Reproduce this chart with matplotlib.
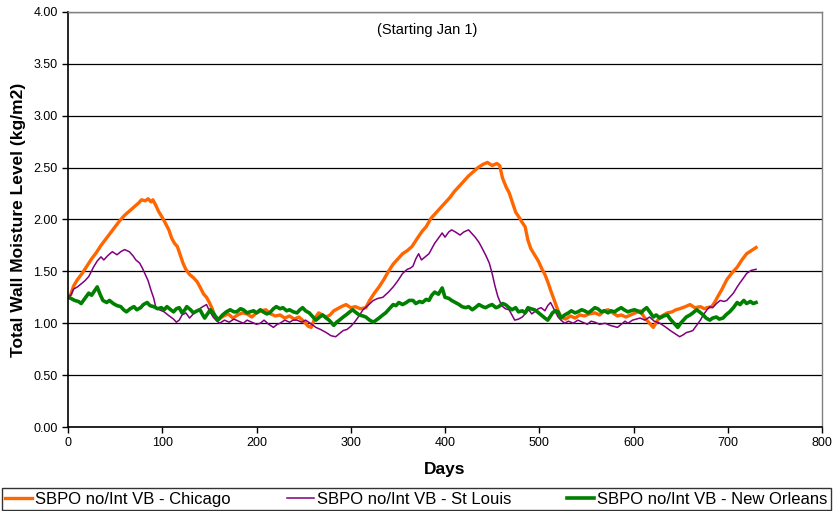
import matplotlib
matplotlib.use("Agg")
import matplotlib.pyplot as plt
from matplotlib.ticker import MultipleLocator, FormatStrFormatter

plt.rcParams['font.family'] = ['Liberation Sans', 'DejaVu Sans']

# ---- data ----
chicago_days = [0, 3, 6, 10, 15, 20, 25, 30, 35, 40, 45, 50, 55, 60, 65, 70, 75, 78, 82, 85, 88, 90, 93, 96,
                100, 103, 107, 110, 113, 116, 119, 122, 125, 129, 133, 137, 140, 144, 147, 150, 153, 156,
                160, 165, 170, 175, 180, 185, 190, 195, 200, 205, 210, 215, 220, 225, 230, 235, 240, 245,
                250, 255, 258, 262, 266, 270, 274, 278, 282, 286, 290, 295, 300, 305, 310, 316, 320, 325,
                330, 335, 340, 345, 350, 355, 360, 365, 370, 376, 380, 385, 390, 395, 400, 405, 410, 415,
                420, 425, 430, 435, 440, 445, 450, 455, 458, 461, 465, 468, 472, 475, 478, 482, 485, 488,
                491, 495, 499, 503, 506, 509, 512, 516, 520, 523, 528, 533, 538, 543, 548, 553, 559, 564,
                569, 573, 578, 583, 587, 592, 597, 602, 607, 612, 617, 621, 625, 628, 632, 636, 641, 645,
                649, 655, 660, 665, 671, 675, 678, 683, 686, 689, 694, 699, 704, 710, 715, 720, 725, 730]
chicago_vals = [1.25, 1.28, 1.36, 1.42, 1.48, 1.55, 1.62, 1.68, 1.75, 1.81, 1.87, 1.93, 1.99, 2.04, 2.08, 2.12,
                2.16, 2.19, 2.18, 2.20, 2.17, 2.19, 2.14, 2.08, 2.02, 1.97, 1.90, 1.82, 1.77, 1.74, 1.66, 1.58,
                1.52, 1.47, 1.44, 1.40, 1.35, 1.28, 1.25, 1.20, 1.14, 1.06, 1.04, 1.07, 1.09, 1.05, 1.08, 1.10,
                1.09, 1.06, 1.10, 1.12, 1.13, 1.09, 1.07, 1.08, 1.05, 1.07, 1.04, 1.06, 1.02, 0.97, 0.96, 1.05,
                1.10, 1.08, 1.06, 1.08, 1.12, 1.14, 1.16, 1.18, 1.15, 1.16, 1.14, 1.15, 1.22, 1.29, 1.35, 1.42,
                1.50, 1.57, 1.62, 1.67, 1.70, 1.74, 1.81, 1.89, 1.93, 2.01, 2.06, 2.11, 2.16, 2.21, 2.27, 2.32,
                2.37, 2.42, 2.46, 2.50, 2.53, 2.55, 2.52, 2.54, 2.52, 2.40, 2.31, 2.26, 2.15, 2.07, 2.03, 1.97,
                1.93, 1.80, 1.72, 1.66, 1.60, 1.52, 1.47, 1.40, 1.32, 1.22, 1.12, 1.06, 1.04, 1.07, 1.05, 1.08,
                1.07, 1.09, 1.10, 1.08, 1.12, 1.13, 1.10, 1.07, 1.08, 1.06, 1.08, 1.10, 1.12, 1.05, 1.00, 0.96,
                1.02, 1.06, 1.08, 1.10, 1.11, 1.13, 1.14, 1.16, 1.18, 1.15, 1.16, 1.14, 1.15, 1.16, 1.20, 1.25,
                1.33, 1.42, 1.48, 1.54, 1.61, 1.67, 1.70, 1.73]

stlouis_days = [0, 3, 6, 10, 14, 18, 22, 27, 31, 35, 38, 42, 47, 52, 56, 60, 65, 69, 72, 76, 79, 82, 85, 88,
                91, 93, 97, 102, 106, 109, 112, 115, 118, 121, 125, 129, 133, 138, 143, 147, 150, 154, 158,
                161, 166, 171, 176, 181, 186, 190, 195, 200, 204, 208, 213, 218, 222, 225, 230, 235, 239,
                243, 248, 252, 257, 263, 268, 274, 279, 284, 288, 292, 296, 300, 304, 308, 313, 318, 324,
                329, 334, 340, 345, 350, 355, 360, 363, 366, 369, 372, 375, 379, 383, 386, 389, 393, 397,
                400, 404, 407, 411, 416, 420, 425, 429, 432, 436, 439, 443, 447, 450, 453, 456, 460, 464,
                468, 471, 474, 478, 482, 486, 489, 492, 495, 499, 502, 506, 509, 512, 516, 520, 523, 527,
                531, 536, 541, 546, 551, 555, 559, 564, 570, 575, 579, 583, 587, 591, 594, 599, 603, 607,
                612, 617, 622, 628, 633, 639, 644, 649, 653, 656, 660, 663, 667, 671, 674, 678, 681, 684,
                688, 692, 696, 699, 703, 706, 710, 713, 717, 720, 725, 730]
stlouis_vals = [1.25, 1.27, 1.33, 1.35, 1.38, 1.41, 1.45, 1.54, 1.60, 1.64, 1.61, 1.65, 1.69, 1.66, 1.69, 1.71,
                1.69, 1.65, 1.61, 1.58, 1.53, 1.47, 1.41, 1.32, 1.24, 1.16, 1.13, 1.11, 1.08, 1.06, 1.04, 1.01,
                1.03, 1.08, 1.10, 1.05, 1.09, 1.13, 1.16, 1.18, 1.12, 1.06, 1.02, 1.00, 1.03, 1.01, 1.04, 1.02,
                1.00, 1.03, 1.01, 0.99, 1.00, 1.03, 0.99, 0.96, 0.99, 1.00, 1.03, 1.01, 1.03, 1.03, 1.01, 1.03,
                1.00, 0.96, 0.94, 0.91, 0.88, 0.87, 0.90, 0.93, 0.94, 0.97, 1.01, 1.06, 1.13, 1.17, 1.22, 1.24,
                1.25, 1.30, 1.35, 1.41, 1.48, 1.52, 1.53, 1.55, 1.62, 1.67, 1.61, 1.64, 1.67, 1.72, 1.77, 1.82,
                1.87, 1.83, 1.88, 1.90, 1.88, 1.85, 1.88, 1.90, 1.86, 1.83, 1.78, 1.73, 1.66, 1.58, 1.48, 1.36,
                1.26, 1.17, 1.14, 1.13, 1.08, 1.03, 1.04, 1.06, 1.10, 1.13, 1.09, 1.11, 1.14, 1.15, 1.12, 1.17,
                1.20, 1.13, 1.06, 1.03, 1.00, 1.02, 1.00, 1.03, 1.01, 0.99, 1.02, 1.01, 0.99, 1.00, 0.98, 0.97,
                0.96, 0.99, 1.02, 1.00, 1.03, 1.04, 1.05, 1.03, 1.06, 1.02, 1.00, 0.97, 0.93, 0.90, 0.87, 0.89,
                0.91, 0.92, 0.93, 0.98, 1.03, 1.08, 1.13, 1.16, 1.15, 1.19, 1.22, 1.21, 1.22, 1.26, 1.29, 1.35,
                1.39, 1.44, 1.48, 1.51, 1.52]

neworleans_days = [0, 3, 7, 11, 14, 18, 22, 25, 28, 31, 34, 37, 41, 44, 48, 52, 56, 59, 62, 66, 70, 73, 77, 80,
                   84, 87, 91, 95, 99, 102, 105, 109, 112, 115, 118, 121, 124, 126, 130, 133, 137, 140, 143,
                   145, 148, 151, 154, 157, 159, 162, 164, 168, 172, 176, 179, 183, 186, 190, 193, 197, 200,
                   204, 207, 211, 214, 218, 221, 225, 228, 232, 235, 239, 243, 246, 249, 252, 256, 260, 263,
                   267, 270, 274, 277, 280, 282, 285, 288, 292, 295, 299, 302, 306, 309, 313, 316, 320, 324,
                   327, 330, 334, 337, 341, 345, 348, 351, 355, 359, 362, 366, 369, 373, 376, 380, 383, 386,
                   389, 393, 397, 400, 404, 407, 411, 415, 418, 422, 425, 429, 432, 436, 440, 443, 447, 450,
                   454, 457, 461, 464, 468, 471, 475, 478, 482, 485, 488, 491, 495, 498, 502, 506, 509, 512,
                   514, 517, 520, 523, 527, 531, 534, 538, 541, 545, 548, 552, 555, 559, 562, 566, 569, 573,
                   576, 580, 583, 587, 590, 594, 597, 601, 604, 608, 611, 614, 618, 621, 624, 628, 632, 636,
                   639, 642, 645, 647, 650, 653, 656, 660, 663, 667, 670, 674, 677, 681, 684, 688, 691, 695,
                   698, 702, 706, 710, 713, 717, 720, 724, 727, 730]
neworleans_vals = [1.25, 1.24, 1.22, 1.21, 1.19, 1.24, 1.29, 1.27, 1.31, 1.35, 1.28, 1.22, 1.20, 1.22, 1.19, 1.17,
                   1.16, 1.13, 1.11, 1.14, 1.16, 1.13, 1.15, 1.18, 1.20, 1.17, 1.16, 1.14, 1.15, 1.13, 1.16, 1.13,
                   1.11, 1.14, 1.15, 1.10, 1.13, 1.16, 1.13, 1.10, 1.12, 1.13, 1.08, 1.05, 1.09, 1.13, 1.10, 1.06,
                   1.03, 1.06, 1.08, 1.11, 1.13, 1.11, 1.11, 1.14, 1.13, 1.10, 1.11, 1.12, 1.10, 1.13, 1.11, 1.09,
                   1.10, 1.14, 1.16, 1.14, 1.15, 1.12, 1.13, 1.11, 1.10, 1.13, 1.15, 1.12, 1.10, 1.06, 1.03, 1.06,
                   1.08, 1.05, 1.03, 1.00, 0.98, 1.01, 1.03, 1.06, 1.08, 1.11, 1.13, 1.10, 1.08, 1.07, 1.06, 1.03,
                   1.01, 1.03, 1.05, 1.08, 1.10, 1.14, 1.18, 1.17, 1.20, 1.18, 1.20, 1.22, 1.22, 1.19, 1.21, 1.20,
                   1.23, 1.22, 1.27, 1.30, 1.28, 1.34, 1.25, 1.24, 1.22, 1.20, 1.18, 1.16, 1.15, 1.16, 1.13, 1.15,
                   1.18, 1.16, 1.15, 1.17, 1.18, 1.15, 1.16, 1.19, 1.18, 1.15, 1.13, 1.15, 1.11, 1.12, 1.10, 1.15,
                   1.14, 1.13, 1.11, 1.08, 1.05, 1.03, 1.07, 1.10, 1.12, 1.11, 1.05, 1.08, 1.10, 1.12, 1.10, 1.11,
                   1.13, 1.12, 1.10, 1.12, 1.15, 1.14, 1.11, 1.12, 1.10, 1.12, 1.11, 1.13, 1.15, 1.13, 1.11, 1.12,
                   1.13, 1.12, 1.10, 1.13, 1.15, 1.10, 1.06, 1.08, 1.05, 1.07, 1.08, 1.04, 1.01, 0.98, 0.96, 1.00,
                   1.03, 1.06, 1.08, 1.10, 1.13, 1.11, 1.08, 1.05, 1.03, 1.05, 1.06, 1.04, 1.05, 1.08, 1.11, 1.15,
                   1.20, 1.18, 1.22, 1.19, 1.21, 1.19, 1.20]

series_labels = ['SBPO no/Int VB - Chicago', 'SBPO no/Int VB - St Louis', 'SBPO no/Int VB - New Orleans']
annotation = '(Starting Jan 1)'

# ---- figure ----
W, H = 833, 511
fig = plt.figure(figsize=(W / 100, H / 100), dpi=100)
ax = fig.add_axes([68 / W, 1 - 427 / H, (822 - 68) / W, (427 - 12) / H])

ax.plot(chicago_days, chicago_vals, color='#FF6600', lw=2.4, label=series_labels[0], solid_joinstyle='round')
ax.plot(stlouis_days, stlouis_vals, color='#800080', lw=1.1, label=series_labels[1])
ax.plot(neworleans_days, neworleans_vals, color='#008000', lw=2.6, label=series_labels[2], solid_joinstyle='round')

ax.set_xlim(0, 800)
ax.set_ylim(0, 4.0)
ax.xaxis.set_major_locator(MultipleLocator(100))
ax.yaxis.set_major_locator(MultipleLocator(0.5))
ax.yaxis.set_major_formatter(FormatStrFormatter('%.2f'))
ax.yaxis.grid(True, color='black', lw=0.9)
ax.set_axisbelow(True)
ax.tick_params(axis='both', direction='out', length=4, width=1, labelsize=9, colors='black')

for s in ['top', 'right']:
    ax.spines[s].set_color('#808080')
    ax.spines[s].set_linewidth(1)
for s in ['left', 'bottom']:
    ax.spines[s].set_color('black')
    ax.spines[s].set_linewidth(1.2)

ax.set_xlabel('Days', fontsize=12.5, fontweight='bold', labelpad=9)
ax.set_ylabel('Total Wall Moisture Level (kg/m2)', fontsize=12.5, fontweight='bold', labelpad=5)

ax.text(0.476, 0.957, annotation, transform=ax.transAxes, fontsize=10.5, ha='center', va='center')

leg = fig.legend(loc='lower left', bbox_to_anchor=(2 / W, 1 / H, 829 / W, 24 / H), mode='expand',
                 ncol=3, fontsize=12, frameon=True, fancybox=False, borderaxespad=0,
                 handlelength=1.6, handletextpad=0.2, borderpad=0.2, columnspacing=0.8)
leg.get_frame().set_edgecolor('black')
leg.get_frame().set_linewidth(1)

fig.savefig('out.png', dpi=100)
